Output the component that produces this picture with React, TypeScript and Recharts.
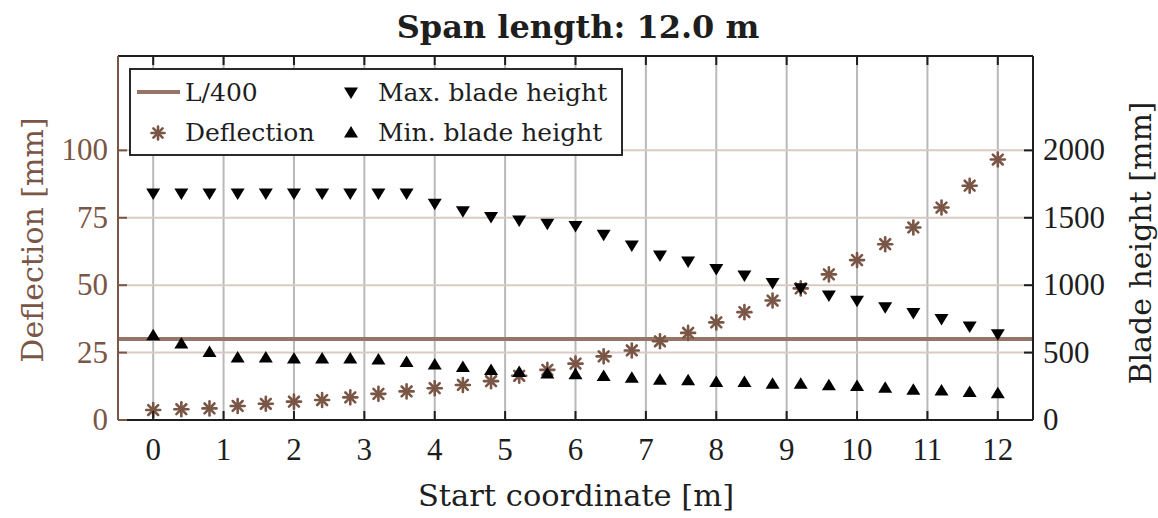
import React from "react"
import { ComposedChart, Scatter, XAxis, YAxis, CartesianGrid, ReferenceLine } from "recharts"

// start coordinate of the span [m]
const startCoord = [
  0, 0.4, 0.8, 1.2, 1.6, 2, 2.4, 2.8, 3.2, 3.6, 4, 4.4, 4.8, 5.2, 5.6, 6,
  6.4, 6.8, 7.2, 7.6, 8, 8.4, 8.8, 9.2, 9.6, 10, 10.4, 10.8, 11.2, 11.6, 12,
]
// deflection [mm] (left axis)
const deflection = [
  3.7, 4.0, 4.3, 5.2, 6.0, 6.8, 7.4, 8.4, 9.7, 10.6, 11.8, 13.0, 14.4, 16.4, 18.6, 20.9,
  23.6, 25.8, 29.2, 32.3, 36.2, 40.0, 44.3, 48.8, 54.0, 59.3, 65.2, 71.4, 78.8, 86.9, 96.6,
]
// blade heights [mm] (right axis)
const maxBladeHeight = [
  1676, 1676, 1676, 1676, 1676, 1676, 1676, 1676, 1676, 1676, 1601, 1544, 1502, 1477, 1452, 1435,
  1370, 1291, 1216, 1172, 1117, 1068, 1013, 973, 919, 881, 832, 790, 745, 690, 633,
]
const minBladeHeight = [
  633, 571, 509, 467, 467, 459, 459, 459, 452, 434, 415, 397, 374, 360, 348, 343,
  330, 318, 303, 298, 285, 285, 273, 273, 261, 256, 242, 228, 223, 211, 203,
]
const limitL400 = 30 // 12000 / 400

const xTicks = [0, 1, 2, 3, 4, 5, 6, 7, 8, 9, 10, 11, 12]
const leftTicks = [0, 25, 50, 75, 100]
const rightTicks = [0, 500, 1000, 1500, 2000]

const data = startCoord.map((x, i) => ({
  x,
  deflection: deflection[i],
  maxH: maxBladeHeight[i],
  minH: minBladeHeight[i],
}))

const BROWN = "#7a5646"
const LINE_BROWN = "#957565"
const INK = "#1e1e1e"
const TICK_FONT = "'Liberation Serif', serif"
const LABEL_FONT = "'DejaVu Serif', serif"

const Asterisk = ({ cx, cy, r = 7, color = BROWN }: any) => {
  const d = r * 0.7071
  return (
    <g stroke={color} strokeWidth={2.6} strokeLinecap="round">
      <line x1={cx - r} y1={cy} x2={cx + r} y2={cy} />
      <line x1={cx} y1={cy - r} x2={cx} y2={cy + r} />
      <line x1={cx - d} y1={cy - d} x2={cx + d} y2={cy + d} />
      <line x1={cx - d} y1={cy + d} x2={cx + d} y2={cy - d} />
    </g>
  )
}

const TriDown = ({ cx, cy }: any) => (
  <path d={`M${cx - 7},${cy - 5.5} L${cx + 7},${cy - 5.5} L${cx},${cy + 6} Z`} fill="#000" />
)
const TriUp = ({ cx, cy }: any) => (
  <path d={`M${cx - 7},${cy + 5.5} L${cx + 7},${cy + 5.5} L${cx},${cy - 6} Z`} fill="#000" />
)

const BottomTick = ({ x, y, payload }: any) => (
  <g>
    <line x1={x} y1={y} x2={x} y2={y - 9} stroke={INK} strokeWidth={2} />
    <text x={x} y={y + 40} textAnchor="middle" fontFamily={TICK_FONT} fontSize={31} fill={INK}>
      {payload.value}
    </text>
  </g>
)
const TopTick = ({ x, y }: any) => (
  <line x1={x} y1={y} x2={x} y2={y + 9} stroke={INK} strokeWidth={2} />
)
const LeftTick = ({ x, y, payload }: any) => (
  <g>
    <line x1={x} y1={y} x2={x + 9} y2={y} stroke={BROWN} strokeWidth={2} />
    <text x={x - 10} y={y + 10} textAnchor="end" fontFamily={TICK_FONT} fontSize={31} fill={BROWN}>
      {payload.value}
    </text>
  </g>
)
const RightTick = ({ x, y, payload }: any) => (
  <g>
    <line x1={x} y1={y} x2={x - 9} y2={y} stroke={INK} strokeWidth={2} />
    <text x={x + 10} y={y + 10} textAnchor="start" fontFamily={TICK_FONT} fontSize={31} fill={INK}>
      {payload.value}
    </text>
  </g>
)

function LegendBox() {
  return (
    <svg width={494} height={88} style={{ position: "absolute", left: 129, top: 68 }}>
      <rect x={1} y={1} width={492} height={86} fill="#fff" stroke="#2a2a2a" strokeWidth={2} />
      <line x1={8} y1={24} x2={51} y2={24} stroke={LINE_BROWN} strokeWidth={4} />
      <text x={56} y={33} fontFamily={LABEL_FONT} fontSize={25} fill={INK}>L/400</text>
      <Asterisk cx={29} cy={65} r={6.5} />
      <text x={56} y={73} fontFamily={LABEL_FONT} fontSize={25} fill={INK}>Deflection</text>
      <TriDown cx={222} cy={25} />
      <text x={249} y={33} fontFamily={LABEL_FONT} fontSize={25} fill={INK}>Max. blade height</text>
      <TriUp cx={222} cy={64} />
      <text x={249} y={73} fontFamily={LABEL_FONT} fontSize={25} fill={INK}>Min. blade height</text>
    </svg>
  )
}

export default function App() {
  return (
    <div style={{ position: "absolute", left: 0, top: 0, width: 1158, height: 518, background: "#fff" }}>
      <ComposedChart
        width={1158}
        height={518}
        data={data}
        margin={{ top: 55, right: 45, bottom: 97, left: 38 }}
      >
        <CartesianGrid yAxisId="left" horizontal={false} stroke="#b9b9b9" strokeWidth={2} />
        <CartesianGrid yAxisId="left" vertical={false} stroke="#d9cbc4" strokeWidth={2} />
        <XAxis
          dataKey="x"
          type="number"
          domain={[-0.5, 12.5]}
          ticks={xTicks}
          interval={0}
          height={1}
          tickSize={0}
          tickMargin={0}
          tickLine={false}
          axisLine={{ stroke: INK, strokeWidth: 2 }}
          tick={<BottomTick />}
        />
        <XAxis
          xAxisId="top"
          orientation="top"
          dataKey="x"
          type="number"
          domain={[-0.5, 12.5]}
          ticks={xTicks}
          interval={0}
          height={1}
          tickSize={0}
          tickMargin={0}
          tickLine={false}
          axisLine={{ stroke: INK, strokeWidth: 2 }}
          tick={<TopTick />}
        />
        <YAxis
          yAxisId="left"
          type="number"
          domain={[0, 135]}
          ticks={leftTicks}
          interval={0}
          width={80}
          tickSize={0}
          tickMargin={0}
          tickLine={false}
          axisLine={{ stroke: BROWN, strokeWidth: 2 }}
          tick={<LeftTick />}
        />
        <YAxis
          yAxisId="right"
          orientation="right"
          type="number"
          domain={[0, 2700]}
          ticks={rightTicks}
          interval={0}
          width={80}
          tickSize={0}
          tickMargin={0}
          tickLine={false}
          axisLine={{ stroke: INK, strokeWidth: 2 }}
          tick={<RightTick />}
        />
        <ReferenceLine yAxisId="left" y={limitL400} stroke={LINE_BROWN} strokeWidth={4} />
        <Scatter yAxisId="left" dataKey="deflection" shape={<Asterisk />} isAnimationActive={false} />
        <Scatter yAxisId="right" dataKey="maxH" shape={<TriDown />} isAnimationActive={false} />
        <Scatter yAxisId="right" dataKey="minH" shape={<TriUp />} isAnimationActive={false} />
      </ComposedChart>

      <div
        style={{
          position: "absolute", left: 0, top: 8, width: 1156, textAlign: "center",
          fontFamily: LABEL_FONT, fontWeight: "bold", fontSize: 32, color: INK, lineHeight: "38px",
        }}
      >
        Span length: 12.0 m
      </div>
      <div
        style={{
          position: "absolute", left: 0, top: 478, width: 1152, textAlign: "center",
          fontFamily: LABEL_FONT, fontSize: 30.5, color: INK, lineHeight: "36px",
        }}
      >
        Start coordinate [m]
      </div>
      <div
        style={{
          position: "absolute", left: 33, top: 240, transform: "translate(-50%, -50%) rotate(-90deg)",
          whiteSpace: "nowrap", fontFamily: LABEL_FONT, fontSize: 30, color: BROWN, lineHeight: "36px",
        }}
      >
        Deflection [mm]
      </div>
      <div
        style={{
          position: "absolute", left: 1141, top: 243, transform: "translate(-50%, -50%) rotate(-90deg)",
          whiteSpace: "nowrap", fontFamily: LABEL_FONT, fontSize: 30, color: INK, lineHeight: "36px",
        }}
      >
        Blade height [mm]
      </div>
      <LegendBox />
    </div>
  )
}
